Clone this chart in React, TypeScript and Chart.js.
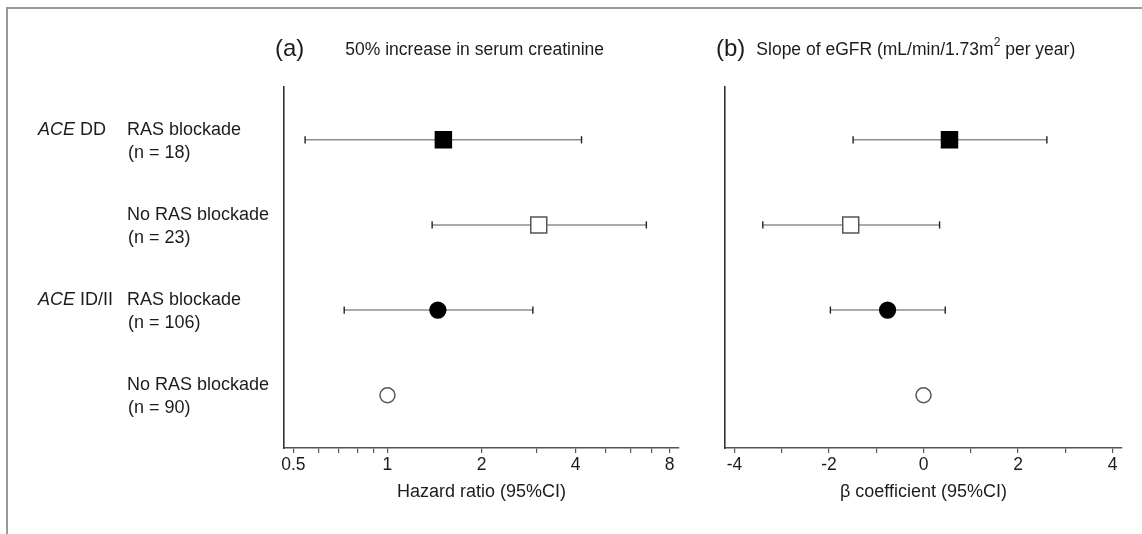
import React, { useEffect, useRef } from 'react';
import { Chart, registerables } from 'chart.js';

Chart.register(...registerables);

// ---- data -------------------------------------------------------------
const rowIds = [1, 2, 3, 4];
const genotypeLabels = ['DD', '', 'ID/II', ''];
const treatmentLabels = ['RAS blockade', 'No RAS blockade', 'RAS blockade', 'No RAS blockade'];
const sampleSizes = [18, 23, 106, 90];

// (a) hazard ratio for a 50% increase in serum creatinine
const hrPoint = [1.51, 3.05, 1.45, 1.0];
const hrLower = [0.545, 1.39, 0.727, null];
const hrUpper = [4.18, 6.74, 2.92, null];

// (b) beta coefficient for the eGFR slope
const betaPoint = [0.55, -1.54, -0.76, 0];
const betaLower = [-1.49, -3.4, -1.97, null];
const betaUpper = [2.61, 0.34, 0.46, null];

const hrLabelTicks = [0.5, 1, 2, 4, 8];
const hrMinorTicks = [0.6, 0.7, 0.8, 0.9, 3, 5, 6, 7];
const betaTicks = [-4, -3, -2, -1, 0, 1, 2, 3, 4];
const betaLabelTicks = [-4, -2, 0, 2, 4];

// ---- styling ------------------------------------------------------------
const FONT = '"Liberation Sans", Arial, Helvetica, sans-serif';
const INK = '#1c1c1c';
const W = 1142;
const H = 534;
const PLOT_TOP = 87;
const X_AXIS_HEIGHT = 86;

function forestDatasets(point: number[], lower: (number | null)[], upper: (number | null)[]) {
  const sets: any[] = [];
  rowIds.forEach((row, i) => {
    const lo = lower[i];
    const hi = upper[i];
    if (lo == null || hi == null) return;
    sets.push({
      type: 'line',
      data: [
        { x: lo, y: row },
        { x: hi, y: row },
      ],
      showLine: true,
      fill: false,
      borderColor: '#8e8e8e',
      borderWidth: 1.6,
      pointStyle: 'line',
      pointRotation: 90,
      pointRadius: 3.6,
      pointHoverRadius: 3.6,
      pointBorderColor: '#222',
      pointBorderWidth: 1.4,
      order: 2,
    });
  });
  sets.push({
    type: 'scatter',
    data: rowIds.map((row, i) => ({ x: point[i], y: row })),
    pointStyle: ['rect', 'rect', 'circle', 'circle'],
    pointRadius: [11.3, 11.3, 7.9, 7.5],
    pointHoverRadius: [11.3, 11.3, 7.9, 7.5],
    backgroundColor: ['#000', '#fff', '#000', '#fff'],
    borderColor: ['#000', '#555', '#000', '#555'],
    borderWidth: 1.5,
    order: 1,
  });
  return sets;
}

function yScale() {
  return {
    type: 'linear',
    min: 0.38,
    max: 4.62,
    reverse: true,
    ticks: { display: false },
    grid: { display: true, drawOnChartArea: false, drawTicks: false, tickLength: 0 },
    border: { display: true, color: '#333', width: 1.6 },
    afterFit: (s: any) => {
      s.width = 0;
    },
  };
}

function xGrid() {
  return {
    display: true,
    drawOnChartArea: false,
    drawTicks: true,
    tickLength: 5,
    color: '#555',
    lineWidth: 1.2,
  };
}

function xTitle(text: string) {
  return {
    display: true,
    text,
    color: INK,
    font: { family: FONT, size: 18 },
    padding: { top: 0, bottom: 31 },
  };
}

function drawHeading(ctx: CanvasRenderingContext2D, x: number, tag: string, parts: { t: string; sup?: boolean }[], gap: number) {
  ctx.save();
  ctx.fillStyle = INK;
  ctx.textBaseline = 'middle';
  ctx.textAlign = 'left';
  ctx.font = `24px ${FONT}`;
  ctx.fillText(tag, x, 49);
  let cx = x + ctx.measureText(tag).width + gap;
  for (const p of parts) {
    ctx.font = p.sup ? `12px ${FONT}` : `17.5px ${FONT}`;
    ctx.fillText(p.t, cx, p.sup ? 43 : 50);
    cx += ctx.measureText(p.t).width;
  }
  ctx.restore();
}

const headingA = {
  id: 'headingA',
  afterDraw(chart: any) {
    const { ctx, chartArea } = chart;
    drawHeading(ctx, chartArea.left - 9, '(a)', [{ t: '50% increase in serum creatinine' }], 41);
  },
};

const headingB = {
  id: 'headingB',
  afterDraw(chart: any) {
    const { ctx, chartArea } = chart;
    drawHeading(
      ctx,
      chartArea.left - 9,
      '(b)',
      [{ t: 'Slope of eGFR (mL/min/1.73m' }, { t: '2', sup: true }, { t: ' per year)' }],
      11
    );
  },
};

// group / treatment labels to the left of panel (a), one block per row
const rowLabels = {
  id: 'rowLabels',
  afterDraw(chart: any) {
    const { ctx } = chart;
    const y = chart.scales.y;
    ctx.save();
    ctx.fillStyle = INK;
    ctx.textBaseline = 'middle';
    ctx.textAlign = 'left';
    rowIds.forEach((row, i) => {
      const py = y.getPixelForValue(row);
      if (genotypeLabels[i]) {
        ctx.font = `italic 18px ${FONT}`;
        ctx.fillText('ACE', 38, py - 10);
        const w = ctx.measureText('ACE ').width;
        ctx.font = `18px ${FONT}`;
        ctx.fillText(genotypeLabels[i], 38 + w, py - 10);
      }
      ctx.font = `18px ${FONT}`;
      ctx.fillText(treatmentLabels[i], 127, py - 10);
      ctx.fillText(`(n = ${sampleSizes[i]})`, 128, py + 13);
    });
    ctx.restore();
  },
};

function baseOptions(padLeft: number, padRight: number, xScale: any) {
  return {
    responsive: false,
    animation: false,
    events: [],
    layout: { padding: { left: padLeft, right: padRight, top: PLOT_TOP, bottom: 0 } },
    plugins: { legend: { display: false }, tooltip: { enabled: false } },
    scales: { x: xScale, y: yScale() },
  };
}

export default function App() {
  const leftRef = useRef<HTMLCanvasElement>(null);
  const rightRef = useRef<HTMLCanvasElement>(null);

  useEffect(() => {
    if (!leftRef.current || !rightRef.current) return;

    const hrAxis = {
      type: 'logarithmic',
      min: 0.4665,
      max: 8.574,
      bounds: 'data',
      afterBuildTicks: (s: any) => {
        s.ticks = [...hrLabelTicks, ...hrMinorTicks].sort((a, b) => a - b).map((v) => ({ value: v }));
      },
      afterFit: (s: any) => {
        s.height = X_AXIS_HEIGHT;
      },
      ticks: {
        autoSkip: false,
        maxRotation: 0,
        padding: 2,
        color: INK,
        font: { family: FONT, size: 17.5 },
        callback: (v: any) => (hrLabelTicks.includes(Number(v)) ? String(v) : ''),
      },
      grid: xGrid(),
      border: { display: true, color: '#555', width: 1.6 },
      title: xTitle('Hazard ratio (95%CI)'),
    };

    const betaAxis = {
      type: 'linear',
      min: -4.2,
      max: 4.2,
      bounds: 'data',
      afterBuildTicks: (s: any) => {
        s.ticks = betaTicks.map((v) => ({ value: v }));
      },
      afterFit: (s: any) => {
        s.height = X_AXIS_HEIGHT;
      },
      ticks: {
        autoSkip: false,
        maxRotation: 0,
        padding: 2,
        color: INK,
        font: { family: FONT, size: 17.5 },
        callback: (v: any) => (betaLabelTicks.includes(Number(v)) ? String(v) : ''),
      },
      grid: xGrid(),
      border: { display: true, color: '#555', width: 1.6 },
      title: xTitle('\u03B2 coefficient (95%CI)'),
    };

    const chartA = new Chart(leftRef.current, {
      type: 'scatter',
      data: { datasets: forestDatasets(hrPoint, hrLower, hrUpper) },
      options: baseOptions(284, 21, hrAxis) as any,
      plugins: [headingA, rowLabels],
    });

    const chartB = new Chart(rightRef.current, {
      type: 'scatter',
      data: { datasets: forestDatasets(betaPoint, betaLower, betaUpper) },
      options: baseOptions(25, 20, betaAxis) as any,
      plugins: [headingB],
    });

    return () => {
      chartA.destroy();
      chartB.destroy();
    };
  }, []);

  return (
    <div
      style={{
        position: 'absolute',
        left: 0,
        top: 0,
        width: W,
        height: H,
        overflow: 'hidden',
        background: '#fff',
      }}
    >
      <div
        style={{
          position: 'absolute',
          left: 6,
          top: 7,
          width: W,
          height: H,
          borderTop: '2px solid #9a9a9a',
          borderLeft: '2px solid #9a9a9a',
        }}
      />
      <canvas
        ref={leftRef}
        width={700}
        height={H}
        style={{ position: 'absolute', left: 0, top: 0, width: 700, height: H }}
      />
      <canvas
        ref={rightRef}
        width={W - 700}
        height={H}
        style={{ position: 'absolute', left: 700, top: 0, width: W - 700, height: H }}
      />
    </div>
  );
}
